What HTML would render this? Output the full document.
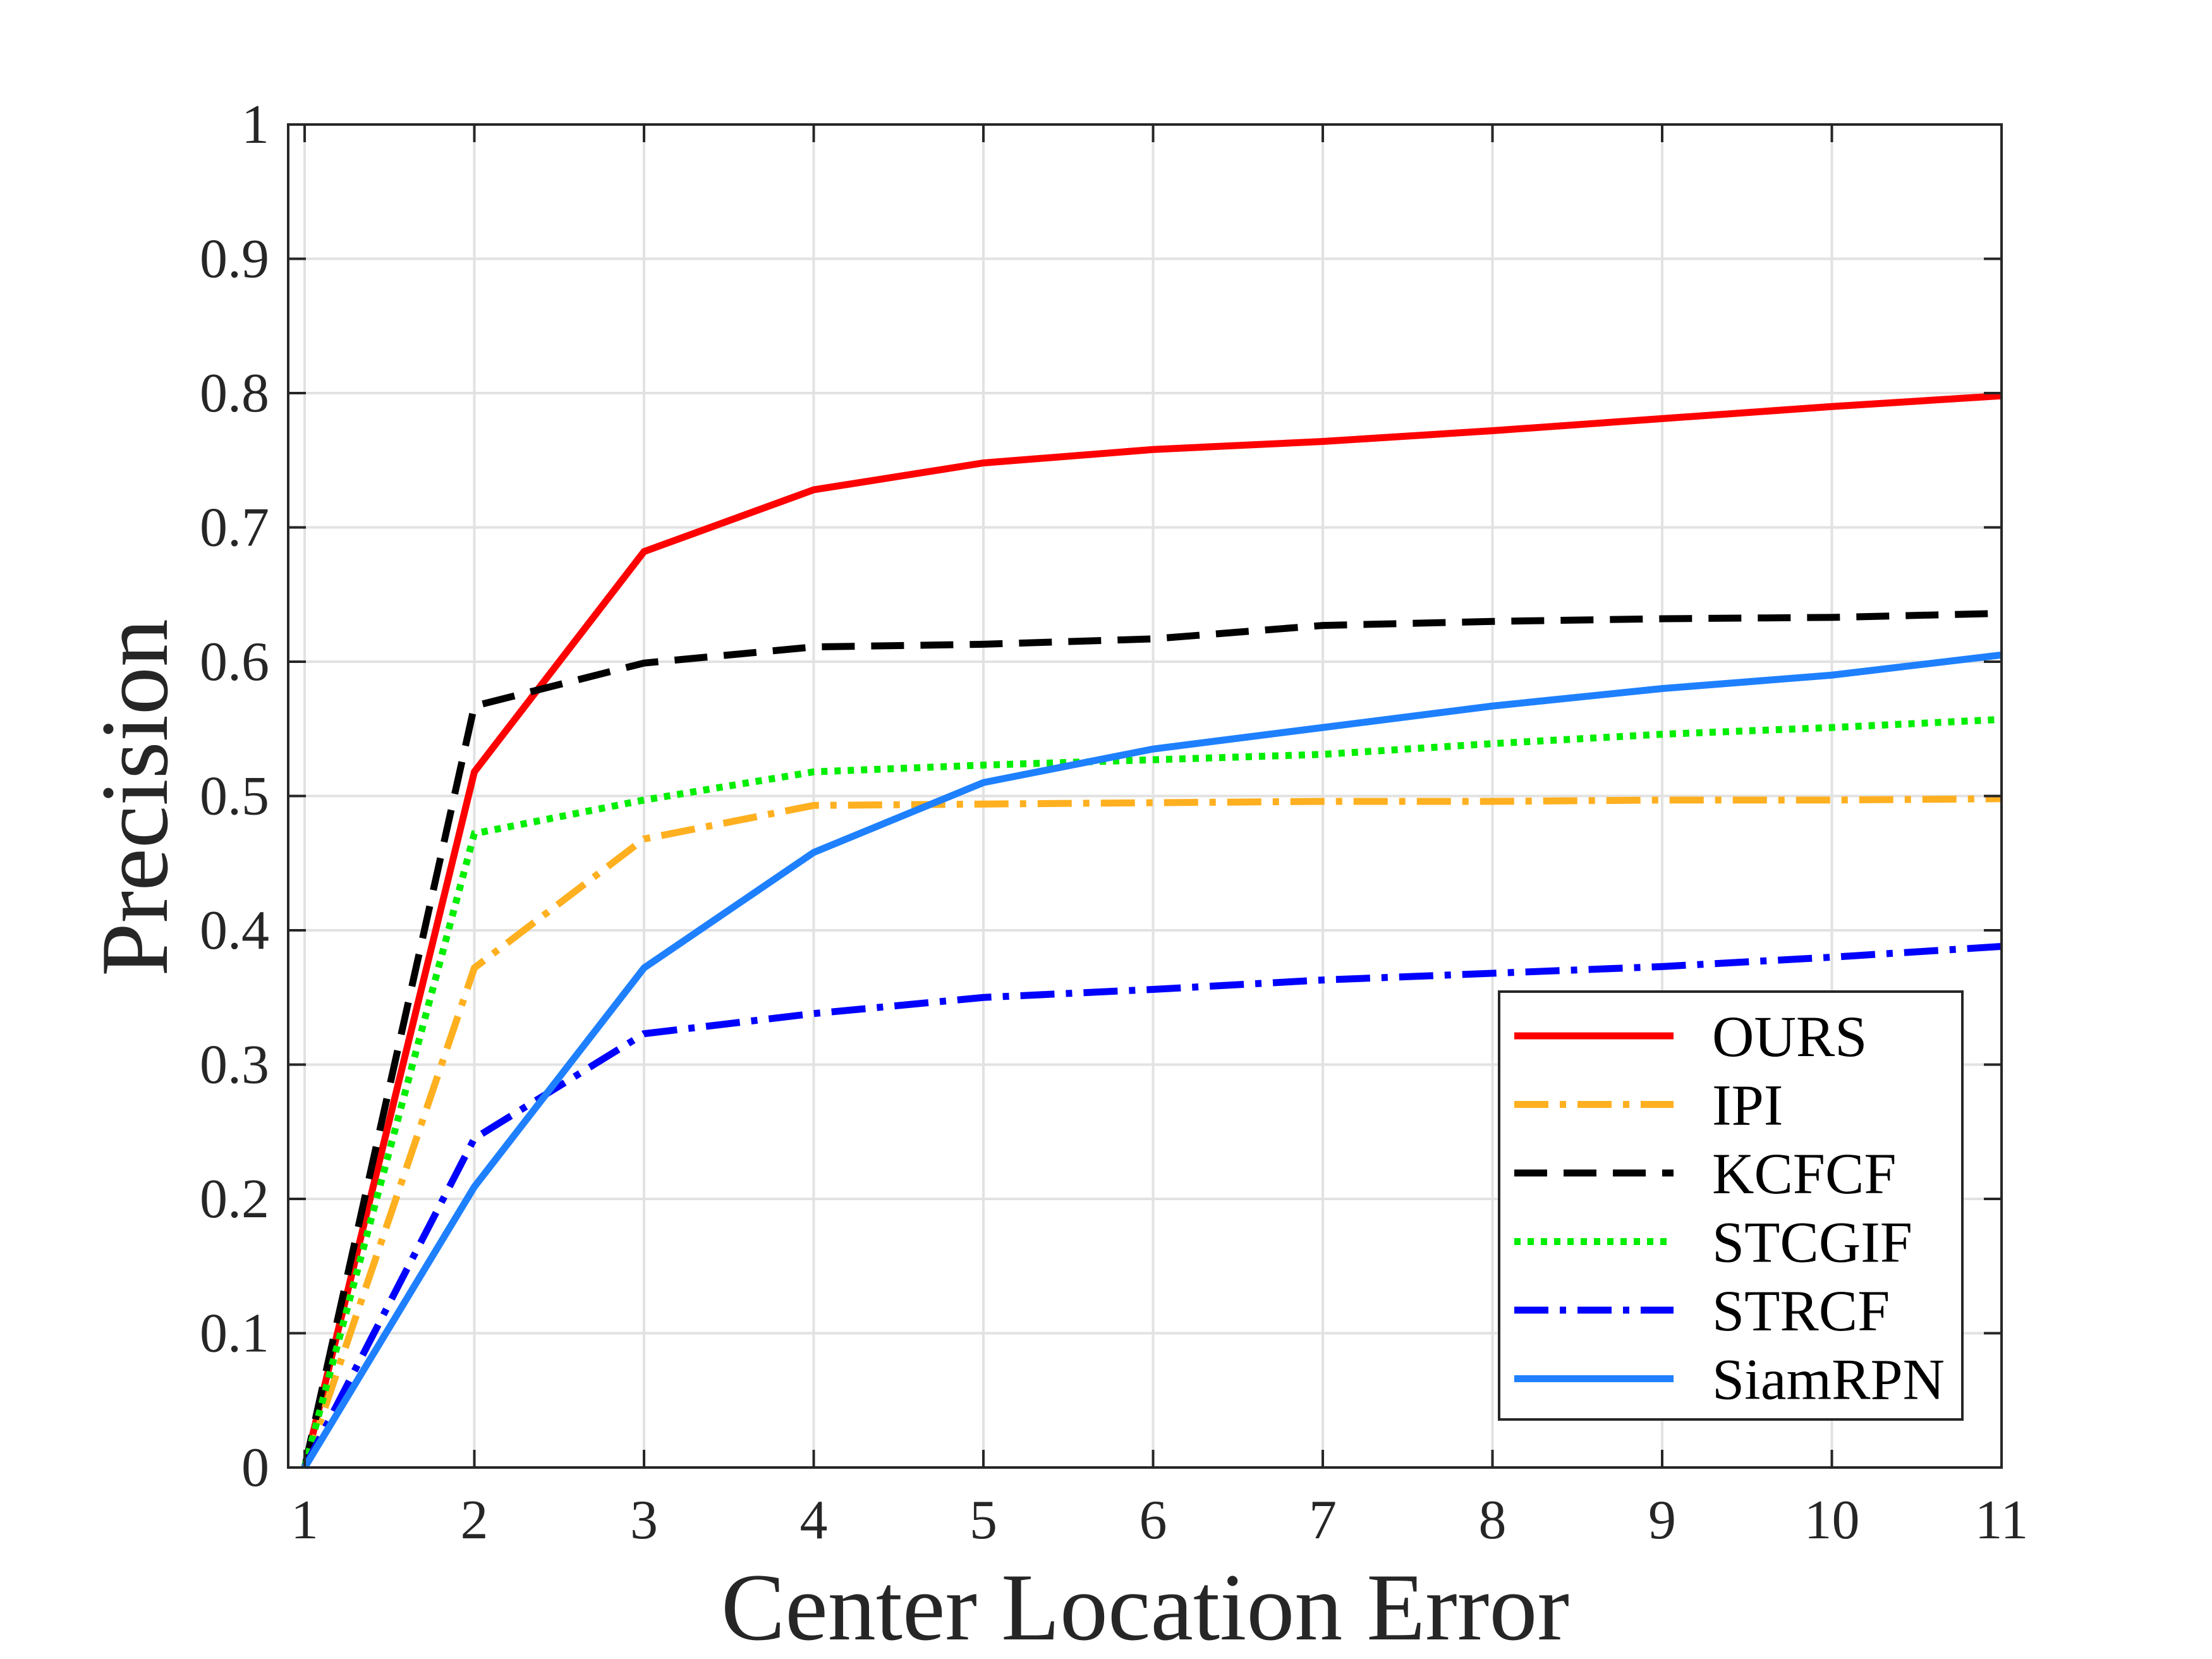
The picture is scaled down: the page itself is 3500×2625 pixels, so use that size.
<!DOCTYPE html>
<html><head><meta charset="utf-8"><style>
html,body{margin:0;padding:0;background:#fff;}
svg{display:block;font-family:"Liberation Serif",serif;}
</style></head><body>
<svg id="chart" width="3500" height="2625" viewBox="0 0 3500 2625">
<g id="grid"></g>
<g id="series"></g>
<g id="axes"></g>
<text x="1812" y="2594" font-size="152" text-anchor="middle" fill="#262626">Center Location Error</text>
<text transform="translate(264,1262) rotate(-90)" font-size="152" text-anchor="middle" fill="#262626">Precision</text>
<g id="legend"></g>
</svg>
<script>
const xCats = [1,2,3,4,5,6,7,8,9,10,11];
const yTicks = [0,0.1,0.2,0.3,0.4,0.5,0.6,0.7,0.8,0.9,1];
const yTickLabels = ["0","0.1","0.2","0.3","0.4","0.5","0.6","0.7","0.8","0.9","1"];
const seriesNames = ["OURS","IPI","KCFCF","STCGIF","STRCF","SiamRPN"];
const oursVals = [0,0.518,0.682,0.728,0.748,0.758,0.764,0.772,0.781,0.790,0.798];
const ipiVals = [0,0.372,0.468,0.493,0.494,0.495,0.496,0.496,0.497,0.497,0.498];
const kcfcfVals = [0,0.567,0.599,0.611,0.613,0.617,0.627,0.630,0.632,0.633,0.636];
const stcgifVals = [0,0.472,0.497,0.518,0.523,0.527,0.531,0.539,0.546,0.551,0.557];
const strcfVals = [0,0.245,0.323,0.338,0.350,0.356,0.363,0.368,0.373,0.380,0.388];
const siamVals = [0,0.209,0.372,0.458,0.510,0.535,0.551,0.567,0.580,0.590,0.605];

const NS="http://www.w3.org/2000/svg";
const L=456,R=3167,T=197,B=2322, XMIN=0.903, XMAX=11;
function sx(v){return L+(v-XMIN)/(XMAX-XMIN)*(R-L);}
function sy(v){return B-v*(B-T);}
function mk(tag,attrs,parent){const e=document.createElementNS(NS,tag);for(const k in attrs)e.setAttribute(k,attrs[k]);parent.appendChild(e);return e;}
const grid=document.getElementById('grid'),axes=document.getElementById('axes'),ser=document.getElementById('series'),leg=document.getElementById('legend');
const styles=[
 {c:"#ff0000",d:""},
 {c:"#ffb020",d:"54,18,10,18"},
 {c:"#000000",d:"52,26"},
 {c:"#00ee00",d:"10,11"},
 {c:"#0000ff",d:"54,18,10,18"},
 {c:"#1e80ff",d:""}];
const allVals=[oursVals,ipiVals,kcfcfVals,stcgifVals,strcfVals,siamVals];
xCats.forEach(v=>{
 const g=mk('line',{x1:sx(v),x2:sx(v),y1:T,y2:B,stroke:"#e2e2e2","stroke-width":4},grid);
 
 
 const t1=mk('line',{x1:sx(v),x2:sx(v),y1:B,y2:B-28,stroke:"#262626","stroke-width":4},axes);
 
 
 mk('line',{x1:sx(v),x2:sx(v),y1:T,y2:T+28,stroke:"#262626","stroke-width":4},axes);
 const tx=mk('text',{x:sx(v),y:2434,"font-size":88,"text-anchor":"middle",fill:"#262626"},axes);
 tx.textContent=String(v);
 
 
});
yTicks.forEach((v,i)=>{
 const g=mk('line',{x1:L,x2:R,y1:sy(v),y2:sy(v),stroke:"#e2e2e2","stroke-width":4},grid);
 
 
 mk('line',{x1:L,x2:L+28,y1:sy(v),y2:sy(v),stroke:"#262626","stroke-width":4},axes);
 mk('line',{x1:R,x2:R-28,y1:sy(v),y2:sy(v),stroke:"#262626","stroke-width":4},axes);
 const tx=mk('text',{x:L-30,y:sy(v)+29,"font-size":88,"text-anchor":"end",fill:"#262626"},axes);
 tx.textContent=yTickLabels[i];
 
 
});
const frame=mk('rect',{x:L,y:T,width:R-L,height:B-T,fill:"none",stroke:"#262626","stroke-width":4},axes);


allVals.forEach((vals,si)=>{
 const pts=vals.map((v,i)=>sx(xCats[i])+","+sy(v)).join(" ");
 const p=mk('polyline',{points:pts,fill:"none",stroke:styles[si].c,"stroke-width":11,"stroke-dasharray":styles[si].d||"none","stroke-linejoin":"miter"},ser);
 
 
});
const box=mk('rect',{x:2372,y:1569,width:733,height:677,fill:"#fff",stroke:"#262626","stroke-width":4},leg);


seriesNames.forEach((n,i)=>{
 const y=1639+i*108.5;
 const ln=mk('line',{x1:2396,x2:2648,y1:y,y2:y,stroke:styles[i].c,"stroke-width":11,"stroke-dasharray":styles[i].d||"none"},leg);
 
 
 const t=mk('text',{x:2709,y:y+32,"font-size":92,fill:"#000"},leg);
 t.textContent=n;
 
 
});
</script>
</body></html>
